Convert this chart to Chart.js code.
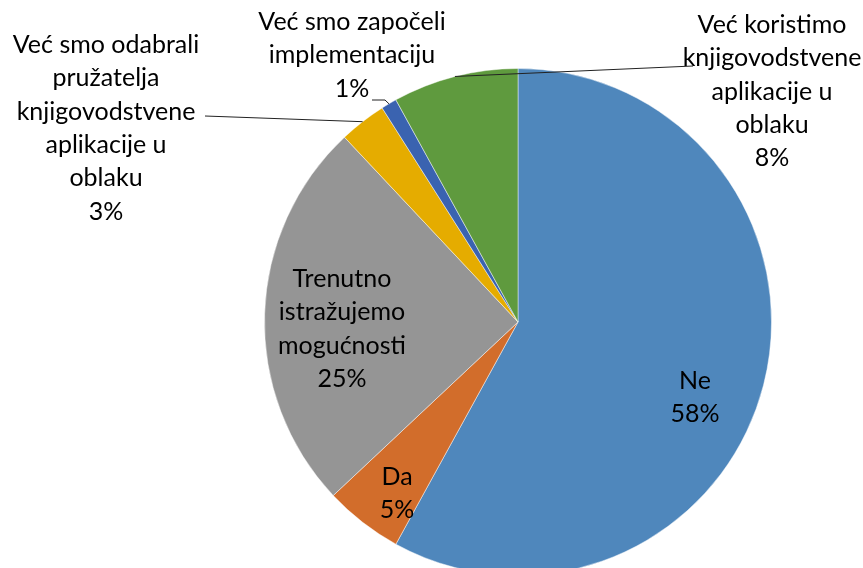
<!DOCTYPE html>
<html>
<head>
<meta charset="utf-8">
<script src="https://cdn.jsdelivr.net/npm/chart.js@4.4.0/dist/chart.umd.min.js"></script>
<style>
  html, body { margin: 0; padding: 0; background: #fff; overflow: hidden; }
  #wrap { position: absolute; left: 0; top: 0; width: 863px; height: 600px; }
</style>
</head>
<body>
<div id="wrap"><canvas id="pie"></canvas></div>
<script>
// data
const categories = [
  "Ne",
  "Da",
  "Trenutno istražujemo mogućnosti",
  "Već smo odabrali pružatelja knjigovodstvene aplikacije u oblaku",
  "Već smo započeli implementaciju",
  "Već koristimo knjigovodstvene aplikacije u oblaku"
];
const shares = [58, 5, 25, 3, 1, 8];
const sliceColors = ["#4F87BC", "#D26D2B", "#959595", "#E5AC00", "#3A63B0", "#5F9A3E"];

// how each label is broken into lines (as in the original)
const labelLines = [
  ["Ne"],
  ["Da"],
  ["Trenutno", "istražujemo", "mogućnosti"],
  ["Već smo odabrali", "pružatelja", "knjigovodstvene", "aplikacije u", "oblaku"],
  ["Već smo započeli", "implementaciju"],
  ["Već koristimo", "knjigovodstvene", "aplikacije u", "oblaku"]
];

// label placement: centre x, first line y, optional leader line end (text side)
const labelPlace = [
  { x: 695, y: 381 },
  { x: 397, y: 477 },
  { x: 342, y: 279 },
  { x: 106, y: 45, leader: [[205, 116]] },
  { x: 352, y: 22, leader: [[385, 100], [372, 100]] },
  { x: 772, y: 25, leader: [[693, 66]] }
];

const lineH = 33.3;

const pieLabels = {
  id: "pieLabels",
  afterDatasetsDraw(chart) {
    const ctx = chart.ctx;
    const meta = chart.getDatasetMeta(0);
    const total = shares.reduce((a, b) => a + b, 0);
    ctx.save();
    meta.data.forEach((arc, i) => {
      const p = arc.getProps(["x", "y", "startAngle", "endAngle", "outerRadius"], true);
      const place = labelPlace[i];
      if (place.leader) {
        const mid = (p.startAngle + p.endAngle) / 2;
        const ex = p.x + Math.cos(mid) * p.outerRadius;
        const ey = p.y + Math.sin(mid) * p.outerRadius;
        ctx.beginPath();
        ctx.moveTo(ex, ey);
        place.leader.forEach(pt => ctx.lineTo(pt[0], pt[1]));
        ctx.strokeStyle = "#222";
        ctx.lineWidth = 1;
        ctx.stroke();
      }
      const lines = labelLines[i].concat([Math.round(shares[i] / total * 100) + "%"]);
      ctx.fillStyle = "#000";
      ctx.font = "25px Lato, 'Open Sans', sans-serif";
      ctx.textAlign = "center";
      ctx.textBaseline = "middle";
      lines.forEach((t, k) => ctx.fillText(t, place.x, place.y + k * lineH));
    });
    ctx.restore();
  }
};

new Chart(document.getElementById("pie"), {
  type: "pie",
  data: {
    labels: categories,
    datasets: [{
      data: shares,
      backgroundColor: sliceColors,
      borderColor: "rgba(255,255,255,0.45)",
      borderWidth: 1
    }]
  },
  options: {
    responsive: true,
    maintainAspectRatio: false,
    animation: false,
    layout: { padding: { left: 264, right: 91, top: 68, bottom: 24 } },
    plugins: {
      legend: { display: false },
      tooltip: { enabled: false }
    }
  },
  plugins: [pieLabels]
});
</script>
</body>
</html>
